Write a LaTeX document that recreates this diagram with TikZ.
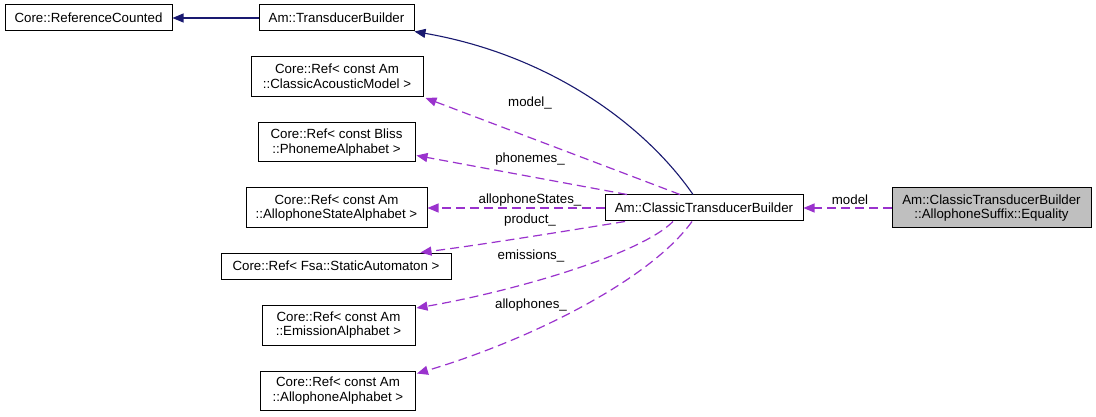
\documentclass[tikz,border=0pt]{standalone}
\usepackage{fontspec}
\setmainfont{Liberation Sans}
\usetikzlibrary{arrows.meta}
\definecolor{navyedge}{HTML}{191970}
\definecolor{useedge}{HTML}{9A32CD}
\definecolor{grayfill}{HTML}{BFBFBF}
\begin{document}
\begin{tikzpicture}[x=1pt,y=-1pt,
  box/.style={draw=black, line width=1pt, inner sep=0pt, align=center, fill=white,
    font=\fontsize{13.3}{14.5}\selectfont},
  lbl/.style={font=\fontsize{13.3}{14}\selectfont, inner sep=0pt},
  inh/.style={draw=navyedge, line width=1.1pt, -{Triangle[length=11pt,width=9pt]}},
  use/.style={draw=useedge, line width=1.2pt, dash pattern=on 9pt off 5pt,
    -{Triangle[length=11pt,width=9pt]}}]
\fill[white] (0,0) rectangle (1096,417);
\useasboundingbox (0,0) rectangle (1096,417);

\node[box, minimum width=167pt, minimum height=26pt] (rc) at (88.5,18) {Core::ReferenceCounted};
\node[box, minimum width=155pt, minimum height=26pt] (tb) at (336.5,18) {Am::TransducerBuilder};
\node[box, minimum width=172pt, minimum height=40pt] (cam) at (337,76.5) {Core::Ref< const Am\\::ClassicAcousticModel >};
\node[box, minimum width=157pt, minimum height=39pt] (pa) at (336.5,142.5) {Core::Ref< const Bliss\\::PhonemeAlphabet >};
\node[box, minimum width=181pt, minimum height=40pt] (asa) at (336.5,208) {Core::Ref< const Am\\::AllophoneStateAlphabet >};
\node[box, minimum width=230pt, minimum height=26pt] (sa) at (336,266) {Core::Ref< Fsa::StaticAutomaton >};
\node[box, minimum width=153pt, minimum height=40pt] (ea) at (338.5,325) {Core::Ref< const Am\\::EmissionAlphabet >};
\node[box, minimum width=155pt, minimum height=39pt] (aa) at (338,390.5) {Core::Ref< const Am\\::AllophoneAlphabet >};
\node[box, minimum width=198pt, minimum height=26pt] (ctb) at (704,208) {Am::ClassicTransducerBuilder};
\node[box, fill=grayfill, minimum width=199pt, minimum height=40pt] (eq) at (991.5,208) {Am::ClassicTransducerBuilder\\::AllophoneSuffix::Equality};

% inheritance
\draw[inh] (tb.west) -- (rc.east);
\draw[inh] ([xshift=-11pt]ctb.north) .. controls (645,125) and (550,55) .. (tb.south east);

% usage
\draw[use] ([xshift=-24pt]ctb.north) -- ([xshift=2pt,yshift=-1pt]cam.south east);
\draw[use] ([xshift=-77pt]ctb.north) -- ([xshift=1pt,yshift=-13pt]pa.east);
\draw[use] (ctb.west) -- (asa.east);
\draw[use] ([xshift=-79pt]ctb.south) .. controls (560,232) and (480,245) .. ([xshift=-31pt]sa.north east);
\draw[use] ([xshift=-31pt]ctb.south) .. controls (640,255) and (510,292) .. ([xshift=1pt,yshift=17pt]ea.east);
\draw[use] ([xshift=-12pt]ctb.south) .. controls (650,280) and (530,340) .. ([xshift=1pt,yshift=17pt]aa.east);
\draw[use] (eq.west) -- (ctb.east);

% labels
\node[lbl] (lmodelu) at (530,103) {model\_};
\node[lbl] (lphon) at (530,159) {phonemes\_};
\node[lbl] (lasa) at (530,200) {allophoneStates\_};
\node[lbl] (lprod) at (530,220) {product\_};
\node[lbl] (lemis) at (531,256) {emissions\_};
\node[lbl] (lallo) at (531,305) {allophones\_};
\node[lbl] (lmodel) at (850,200) {model};
\end{tikzpicture}
\end{document}
